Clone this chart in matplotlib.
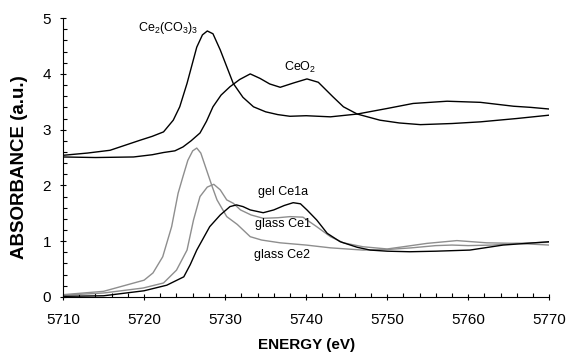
import matplotlib
matplotlib.use("Agg")
import matplotlib.pyplot as plt
from matplotlib.ticker import MultipleLocator

plt.rcParams["font.family"] = ["Liberation Sans", "DejaVu Sans"]
plt.rcParams["mathtext.fontset"] = "custom"
plt.rcParams["mathtext.rm"] = "Liberation Sans"
plt.rcParams["mathtext.it"] = "Liberation Sans:italic"
plt.rcParams["mathtext.bf"] = "Liberation Sans:bold"

# Ce L3-edge XANES spectra (reference compounds offset by +2.5)
e_carb = [5710, 5713, 5715.8, 5719.5, 5721, 5722.4, 5723.6, 5724.4, 5725.3, 5726.5,
          5727.2, 5727.8, 5728.5, 5729.4, 5731, 5732.2, 5733.5, 5735, 5736.5, 5738,
          5740, 5743, 5746.3, 5750, 5753.2, 5757.4, 5761.5, 5765.6, 5767.7, 5770]
a_carb = [2.54, 2.58, 2.63, 2.81, 2.88, 2.96, 3.17, 3.41, 3.83, 4.48,
          4.70, 4.77, 4.72, 4.43, 3.83, 3.58, 3.41, 3.32, 3.27, 3.24,
          3.25, 3.23, 3.28, 3.38, 3.47, 3.51, 3.49, 3.42, 3.40, 3.37]

e_ceo2 = [5710, 5714, 5718.7, 5721, 5722.4, 5723.8, 5724.8, 5725.8, 5726.9, 5727.7,
          5728.5, 5729.5, 5730.6, 5731.8, 5733.1, 5734.3, 5735.5, 5736.8, 5738.5, 5740.1,
          5741.5, 5743.3, 5744.6, 5746.3, 5749.1, 5751.5, 5754.1, 5758, 5761.5, 5766, 5770]
a_ceo2 = [2.51, 2.50, 2.51, 2.55, 2.59, 2.62, 2.69, 2.80, 2.94, 3.15,
          3.41, 3.62, 3.77, 3.90, 4.00, 3.92, 3.82, 3.76, 3.84, 3.91,
          3.85, 3.59, 3.41, 3.28, 3.17, 3.12, 3.09, 3.11, 3.14, 3.20, 3.26]

e_gel = [5710, 5715, 5720, 5722.8, 5724.9, 5725.7, 5726.5, 5727.3, 5728.1, 5729.4,
         5730.6, 5731.4, 5732.2, 5733.1, 5734.7, 5736, 5737.3, 5738.4, 5739.3, 5740.1,
         5741.3, 5742.6, 5744.2, 5746.3, 5747.9, 5750, 5752.8, 5756, 5760.2, 5764.3, 5770]
a_gel = [0.01, 0.02, 0.11, 0.21, 0.36, 0.58, 0.84, 1.05, 1.26, 1.47,
         1.62, 1.65, 1.62, 1.56, 1.51, 1.56, 1.64, 1.69, 1.67, 1.56,
         1.38, 1.14, 0.99, 0.89, 0.84, 0.82, 0.81, 0.82, 0.84, 0.93, 0.99]

e_ce1 = [5710, 5715, 5719.9, 5722.4, 5724, 5725.3, 5726.1, 5726.9, 5727.8, 5728.6,
         5729.4, 5730.2, 5731, 5731.9, 5733.2, 5734.7, 5736.5, 5738, 5739.6, 5741.3,
         5743, 5744.6, 5747, 5750, 5752, 5754.9, 5758.6, 5762.3, 5766, 5770]
a_ce1 = [0.03, 0.07, 0.16, 0.25, 0.48, 0.84, 1.38, 1.80, 1.97, 2.02,
         1.92, 1.74, 1.68, 1.56, 1.47, 1.41, 1.42, 1.44, 1.43, 1.26,
         1.08, 0.97, 0.90, 0.86, 0.90, 0.96, 1.01, 0.97, 0.96, 0.93]

e_ce2 = [5710, 5715, 5720, 5721.1, 5722.3, 5723.4, 5724.2, 5724.8, 5725.4, 5726,
         5726.5, 5727, 5727.7, 5728.4, 5729, 5730.2, 5731.5, 5733.1, 5734.5, 5736.8,
         5740, 5743, 5747, 5750, 5753, 5756, 5758, 5760, 5763, 5766, 5770]
a_ce2 = [0.04, 0.10, 0.30, 0.43, 0.72, 1.26, 1.86, 2.16, 2.45, 2.62,
         2.67, 2.58, 2.28, 1.98, 1.74, 1.44, 1.30, 1.08, 1.02, 0.97,
         0.93, 0.88, 0.84, 0.85, 0.88, 0.92, 0.93, 0.92, 0.93, 0.96, 0.98]

black = "black"
grey = "#8e8e8e"

fig = plt.figure(figsize=(5.68, 3.56), dpi=100)
ax = fig.add_axes([0.111, 0.166, 0.856, 0.783])

ax.plot(e_ce2, a_ce2, color=grey, lw=1.0)
ax.plot(e_ce1, a_ce1, color=grey, lw=1.0)
ax.plot(e_gel, a_gel, color=black, lw=1.0)
ax.plot(e_ceo2, a_ceo2, color=black, lw=1.0)
ax.plot(e_carb, a_carb, color=black, lw=1.0)

ax.text(5723.0, 4.82, r"Ce$_2$(CO$_3$)$_3$", fontsize=9, ha="center", va="center")
ax.text(5739.3, 4.12, r"CeO$_2$", fontsize=9, ha="center", va="center")
ax.text(5737.2, 1.88, "gel Ce1a", fontsize=9, ha="center", va="center")
ax.text(5737.2, 1.30, "glass Ce1", fontsize=9, ha="center", va="center")
ax.text(5737.0, 0.75, "glass Ce2", fontsize=9, ha="center", va="center")

ax.set_xlim(5710, 5770)
ax.set_ylim(0, 5)
ax.xaxis.set_major_locator(MultipleLocator(10))
ax.xaxis.set_minor_locator(MultipleLocator(2))
ax.yaxis.set_major_locator(MultipleLocator(1))
ax.yaxis.set_minor_locator(MultipleLocator(0.2))
ax.tick_params(which="major", direction="inout", length=5, width=0.8, labelsize=11, pad=6)
ax.tick_params(axis="x", which="major", pad=9)
ax.tick_params(which="minor", direction="in", length=3, width=0.8)

for side in ("top", "right"):
    ax.spines[side].set_visible(False)
for side in ("left", "bottom"):
    ax.spines[side].set_linewidth(0.8)

ax.set_xlabel("ENERGY (eV)", fontsize=11, fontweight="bold", labelpad=8)
ax.set_ylabel("ABSORBANCE (a.u.)", fontsize=13.5, fontweight="bold")
ax.yaxis.set_label_coords(-0.072, 0.466)

fig.savefig("out.png", dpi=100)
